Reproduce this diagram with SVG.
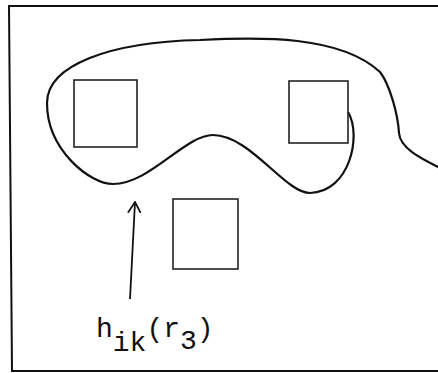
<svg xmlns="http://www.w3.org/2000/svg" width="438" height="373" viewBox="0 0 438 373">
<style>
.frame{fill:none;stroke:#111;stroke-width:2}
.box{fill:none;stroke:#222;stroke-width:1.6}
.curve{fill:none;stroke:#111;stroke-width:2.2;stroke-linejoin:round}
.conn{fill:none;stroke:#111;stroke-width:1.8}
.lbl{font-family:"Liberation Mono","Courier New",monospace;font-size:28px;fill:#111}
</style>
<defs>
<marker id="ah" viewBox="0 0 12 14" refX="11" refY="7" markerWidth="12" markerHeight="14" markerUnits="userSpaceOnUse" orient="auto">
<path d="M0,0.5 L11,7 L0,13.5" fill="none" stroke="#111" stroke-width="1.8"/>
</marker>
</defs>
<rect width="438" height="373" fill="#fff"/>
<g id="frame">
<path class="frame" d="M438,6 L9,6 L12,371 L438,371"/>
</g>
<g id="region">
<path class="curve" d="M348,112 C362,135 350,192 310,193 C285,193 250,135 213,135 C185,135 150,184 113,184 C90,184 47,150 47,103 C47,65 110,42 200,40 C260,37 340,35 380,72 C390,85 398,115 399,133 C400,148 420,158 440,168"/>
</g>
<g id="box1"><rect class="box" x="74" y="80" width="63" height="67"/></g>
<g id="box2"><rect class="box" x="289" y="81" width="59" height="62"/></g>
<g id="box3"><rect class="box" x="173" y="199" width="65" height="70"/></g>
<g id="connectors">
<path class="conn" d="M130,299 L135,202" marker-end="url(#ah)"/>
</g>
<g id="label">
<text class="lbl" x="96" y="337">h<tspan dy="14">ik</tspan><tspan dy="-14">(r</tspan><tspan dy="12">3</tspan><tspan dy="-12">)</tspan></text>
</g>
</svg>
